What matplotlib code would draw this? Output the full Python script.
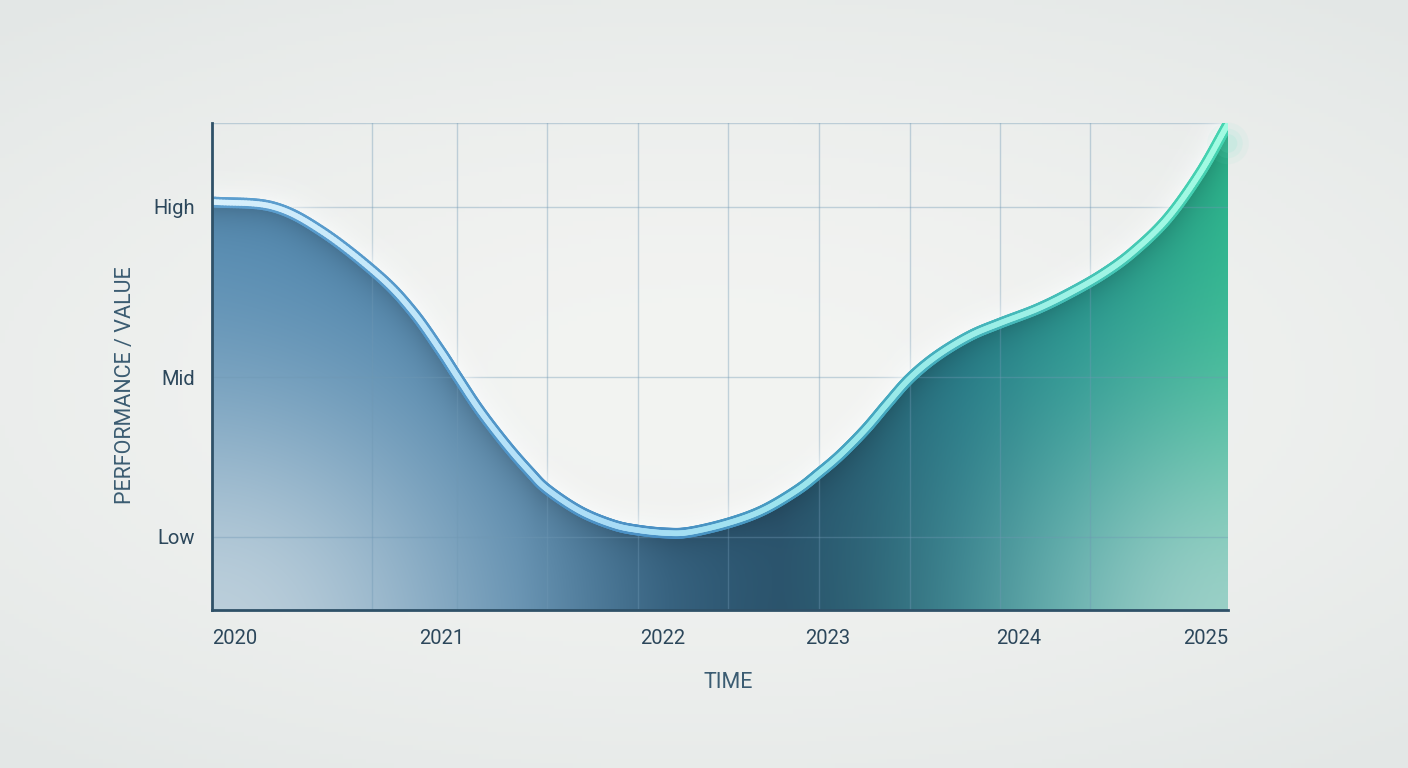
import numpy as np
import matplotlib
matplotlib.use("Agg")
import matplotlib.pyplot as plt
from matplotlib.collections import LineCollection
from matplotlib.colors import LinearSegmentedColormap, to_rgb
from matplotlib.patches import Polygon

plt.rcParams['font.family'] = ['Roboto', 'DejaVu Sans']

# values (x in years, y on a 0-100 scale)
years = [2020.000, 2020.300, 2020.546, 2020.827, 2020.989, 2021.122, 2021.206,
         2021.319, 2021.452, 2021.565, 2021.649, 2021.811, 2021.973, 2022.096,
         2022.239, 2022.352, 2022.544, 2022.712, 2022.879, 2022.987, 2023.091,
         2023.214, 2023.322, 2023.435, 2023.568, 2023.730, 2023.878, 2024.060,
         2024.222, 2024.385, 2024.532, 2024.700, 2024.862, 2025.000]
values = [83.8, 82.8, 77.6, 68.4, 61.2, 53.4, 48.0,
          40.9, 33.7, 28.3, 24.8, 20.3, 17.5, 16.4,
          15.8, 16.0, 17.9, 20.5, 24.6, 28.1, 31.8,
          37.0, 42.3, 47.6, 52.2, 56.3, 58.9, 61.8,
          65.1, 69.0, 73.5, 80.3, 89.7, 99.8]

year_labels = ['2020', '2021', '2022', '2023', '2024', '2025']
year_label_pos = [2020.0, 2021.13, 2022.22, 2023.03, 2023.97, 2025.0]
level_labels = ['Low', 'Mid', 'High']
level_pos = [15.0, 47.8, 82.8]
grid_x = [2020.787, 2021.206, 2021.649, 2022.096, 2022.539, 2022.987,
          2023.435, 2023.878, 2024.321]


def smooth(xs, ys, n=20):
    # catmull-rom through the read points, only for drawing a smooth curve
    p = np.column_stack([xs, ys])
    p = np.vstack([2 * p[0] - p[1], p, 2 * p[-1] - p[-2]])
    out = []
    t = np.linspace(0, 1, n, endpoint=False)[:, None]
    for i in range(1, len(p) - 2):
        p0, p1, p2, p3 = p[i - 1], p[i], p[i + 1], p[i + 2]
        out.append(0.5 * ((2 * p1) + (-p0 + p2) * t + (2 * p0 - 5 * p1 + 4 * p2 - p3) * t ** 2
                          + (-p0 + 3 * p1 - 3 * p2 + p3) * t ** 3))
    out.append(p[-2][None, :])
    out = np.vstack(out)
    return out[:, 0], out[:, 1]


W, H = 1408, 768
AX_L, AX_R, AX_T, AX_B = 212, 1228, 123, 610
fig = plt.figure(figsize=(W / 100, H / 100), dpi=100)

# soft paper background with vignette
bg = fig.add_axes([0, 0, 1, 1])
bg.set_axis_off()
gx, gy = np.meshgrid(np.linspace(-1, 1, 300), np.linspace(-1, 1, 170))
r = np.sqrt((gx * 0.9) ** 2 + (gy * 1.1) ** 2)
light = np.array(to_rgb('#f3f4f2'))
dark = np.array(to_rgb('#e3e7e6'))
t = np.clip(r / 1.4, 0, 1)[..., None] ** 1.6
bg.imshow(light * (1 - t) + dark * t, extent=[0, 1, 0, 1], aspect='auto')
bg.set_xlim(0, 1)
bg.set_ylim(0, 1)

ax = fig.add_axes([AX_L / W, 1 - AX_B / H, (AX_R - AX_L) / W, (AX_B - AX_T) / H])
ax.patch.set_alpha(0)
ax.set_xlim(2020, 2025)
ax.set_ylim(0, 100)

sx, sy = smooth(years, values)

# pixel grid over the axes, and distance of each cell from the curve
px_x = (AX_R - AX_L) / 5.0      # pixels per year
px_y = (AX_B - AX_T) / 100.0    # pixels per unit
nx, ny = 508, 244
fx, fy = np.meshgrid(np.linspace(0, 1, nx), np.linspace(0, 1, ny))
col_x = 2020 + 5 * fx[0]
curve_y = np.interp(col_x, sx, sy)
slope = np.gradient(curve_y * px_y, col_x * px_x)
d_vert = (curve_y[None, :] - fy * 100) * px_y
d_perp = d_vert / np.sqrt(1 + slope[None, :] ** 2)

# gradient fill under the curve
hue = LinearSegmentedColormap.from_list('hue', [
    (0.0, '#4e86ae'), (0.3, '#427ca6'), (0.45, '#2f6488'), (0.56, '#2a5c7a'),
    (0.64, '#27687f'), (0.74, '#207c88'), (0.85, '#1f948c'), (1.0, '#2ab48c')])
base = hue(fx)[..., :3]
shade = (0.16 * np.exp(-((fx - 0.55) / 0.22) ** 2) * (1 - fy))[..., None]
base = base * (1 - shade)
pale = np.array(to_rgb('#d4dfe5'))
spot_l = np.exp(-(((fx - 0.0) / 0.30) ** 2 + ((fy + 0.05) / 0.55) ** 2))
spot_r = np.exp(-(((fx - 1.0) / 0.24) ** 2 + ((fy + 0.05) / 0.50) ** 2))
w = np.clip(0.82 * spot_l + 0.66 * spot_r, 0, 0.85)[..., None]
fill_rgb = base * (1 - w) + pale * w
# darker band right under the line
under = np.where(d_perp > 0, np.exp(-np.clip(d_perp, 0, None) / 16), 0)[..., None]
fill_rgb = fill_rgb * (1 - 0.22 * under)
im = ax.imshow(fill_rgb, extent=[2020, 2025, 0, 100], origin='lower',
               aspect='auto', zorder=1, interpolation='bilinear')
clip = Polygon(np.column_stack([np.r_[sx, 2025, 2020], np.r_[sy, 0, 0]]),
               closed=True, facecolor='none', edgecolor='none')
ax.add_patch(clip)
im.set_clip_path(clip)

# grid
for gxv in grid_x:
    ax.axvline(gxv, color='#6f98b4', lw=1.0, alpha=0.38, zorder=2)
for lv in level_pos + [100]:
    ax.axhline(lv, color='#6f98b4', lw=1.0, alpha=0.38, zorder=2)

# white halo above the line
halo = np.zeros((ny, nx, 4))
halo[..., :3] = to_rgb('#fbfdfe')
halo[..., 3] = np.where(d_perp < 0, 0.9 * np.exp(-np.clip(-d_perp, 0, None) / 12), 0)
ax.imshow(halo, extent=[2020, 2025, 0, 100], origin='lower', aspect='auto',
          zorder=3, interpolation='bilinear')

# line itself, colour shifts from blue to mint
pts = np.column_stack([sx, sy]).reshape(-1, 1, 2)
segs = np.concatenate([pts[:-1], pts[1:]], axis=1)
frac = ((sx[:-1] + sx[1:]) / 2 - 2020) / 5
edge_cmap = LinearSegmentedColormap.from_list('edge', [
    (0.0, '#5d9fcf'), (0.45, '#4a90c4'), (0.65, '#45a6c0'), (1.0, '#45d4b0')])
core_cmap = LinearSegmentedColormap.from_list('core', [
    (0.0, '#d8f0fc'), (0.4, '#a9dcf6'), (0.65, '#98e8ea'), (1.0, '#a2fbe2')])
ax.add_collection(LineCollection(segs, colors=edge_cmap(frac), linewidths=7.8,
                                 capstyle='round', joinstyle='round', zorder=4))
ax.add_collection(LineCollection(segs, colors=core_cmap(frac), linewidths=4.0,
                                 capstyle='round', joinstyle='round', zorder=5))

# soft glow at the end of the line
for s, a in [(900, 0.06), (450, 0.09), (180, 0.12)]:
    ax.scatter([years[-1]], [values[-1] - 4], s=s, color='#6fe8c8', alpha=a,
               edgecolors='none', zorder=3, clip_on=False)

# axes styling
for side in ['top', 'right']:
    ax.spines[side].set_visible(False)
for side in ['left', 'bottom']:
    ax.spines[side].set_color('#2f5168')
    ax.spines[side].set_linewidth(2)
    ax.spines[side].set_zorder(6)

ax.set_xticks(year_label_pos, year_labels)
ax.set_yticks(level_pos, level_labels)
ax.tick_params(axis='both', length=0, labelsize=14.5, labelcolor='#2c475b')
ax.tick_params(axis='x', pad=14)
ax.tick_params(axis='y', pad=12)
xl = ax.get_xticklabels()
xl[0].set_ha('left')
xl[-1].set_ha('right')

fig.text(126 / W, 1 - 385 / H, 'PERFORMANCE / VALUE', rotation=90, ha='center',
         va='center', fontsize=15.5, color='#3b5c72')
fig.text(728 / W, 1 - 683 / H, 'TIME', ha='center', va='center',
         fontsize=15.5, color='#3b5c72')

fig.savefig('out.png', dpi=100)
